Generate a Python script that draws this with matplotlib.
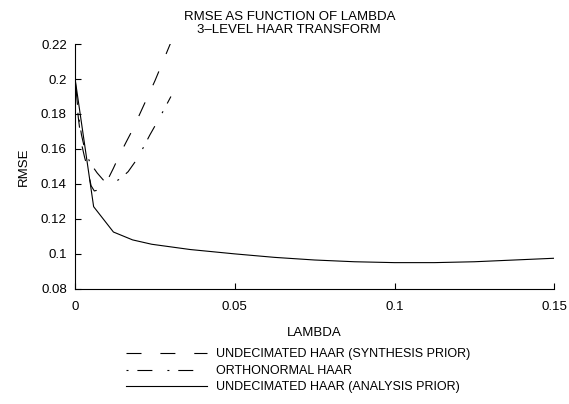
import matplotlib.pyplot as plt

plt.rcParams['font.family'] = ['Liberation Sans', 'DejaVu Sans']

# synthesis prior (dashed)
lam_syn = [0, 0.001, 0.002, 0.003, 0.0038, 0.005, 0.006, 0.0075, 0.009, 0.0105,
           0.012, 0.0135, 0.016, 0.018, 0.02, 0.025, 0.03]
rmse_syn = [0.2, 0.178, 0.163, 0.155, 0.1497, 0.139, 0.136, 0.1366, 0.140, 0.1435,
            0.149, 0.155, 0.164, 0.171, 0.179, 0.199, 0.221]

# orthonormal haar (dash-dot)
lam_orth = [0, 0.001, 0.002, 0.003, 0.0047, 0.0069, 0.0088, 0.0103, 0.012, 0.0141,
            0.0166, 0.0197, 0.0216, 0.0234, 0.0265, 0.03]
rmse_orth = [0.2, 0.18, 0.168, 0.16, 0.152, 0.1463, 0.1423, 0.1406, 0.1408, 0.1429,
             0.147, 0.155, 0.1617, 0.168, 0.178, 0.19]

# analysis prior (solid)
lam_ana = [0, 0.0058, 0.012, 0.018, 0.024, 0.036, 0.05, 0.0625, 0.075,
           0.0875, 0.1, 0.1125, 0.125, 0.1375, 0.15]
rmse_ana = [0.2, 0.127, 0.1125, 0.108, 0.1055, 0.1025, 0.1, 0.098, 0.0965,
            0.0955, 0.095, 0.095, 0.0955, 0.0965, 0.0975]

labels = ["UNDECIMATED HAAR (SYNTHESIS PRIOR)", "ORTHONORMAL HAAR",
          "UNDECIMATED HAAR (ANALYSIS PRIOR)"]

fs = 9.5
lw = 0.8

fig = plt.figure(figsize=(5.69, 4.04), dpi=100)
ax = fig.add_axes([0.132, 0.285, 0.842, 0.606])

ax.plot(lam_syn, rmse_syn, color='black', lw=lw, dashes=(13.5, 17), label=labels[0])
ax.plot(lam_orth, rmse_orth, color='black', lw=lw, dashes=(1.8, 8, 13.5, 13.5), label=labels[1])
ax.plot(lam_ana, rmse_ana, color='black', lw=lw, label=labels[2])

ax.set_xlim(0, 0.15)
ax.set_ylim(0.08, 0.22)
ax.set_xticks([0, 0.05, 0.1, 0.15])
ax.set_xticklabels(['0', '0.05', '0.1', '0.15'])
ax.set_yticks([0.08, 0.1, 0.12, 0.14, 0.16, 0.18, 0.2, 0.22])
ax.set_yticklabels(['0.08', '0.1', '0.12', '0.14', '0.16', '0.18', '0.2', '0.22'])
ax.tick_params(direction='in', length=4.5, labelsize=fs, width=0.8)
ax.tick_params(axis='x', pad=9)
ax.tick_params(axis='y', pad=6)
ax.spines['top'].set_visible(False)
ax.spines['right'].set_visible(False)

ax.set_xlabel("LAMBDA", fontsize=fs, labelpad=10)
ax.set_ylabel("RMSE", fontsize=fs, labelpad=8)
ax.set_title("RMSE AS FUNCTION OF LAMBDA\n3\u2013LEVEL HAAR TRANSFORM", fontsize=fs,
             linespacing=1.15, pad=8, x=0.447)

fig.legend(loc='upper left', bbox_to_anchor=(0.21, 0.153), frameon=False, fontsize=9,
           handlelength=6.5, handletextpad=0.75, labelspacing=0.36, borderpad=0)

fig.savefig("out.png", dpi=100)
